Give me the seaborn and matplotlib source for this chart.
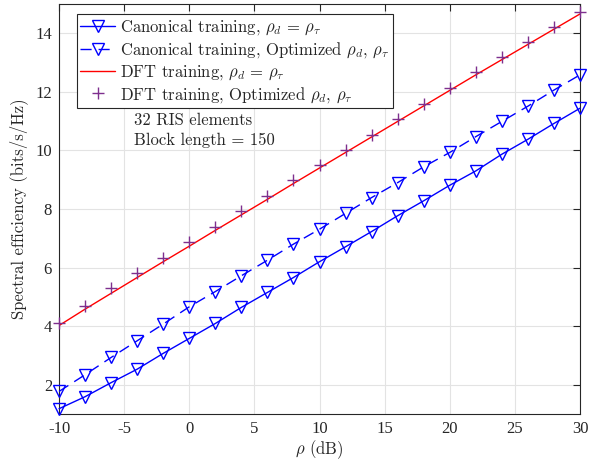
import numpy as np
import pandas as pd
import matplotlib
matplotlib.use('Agg')
import matplotlib.pyplot as plt
import seaborn as sns

# SNR points (dB)
rho_db = list(range(-10, 31, 2))

# spectral efficiency (bits/s/Hz)
canonical_equal = [1.18, 1.59, 2.07, 2.53, 3.07, 3.58, 4.09, 4.64, 5.15, 5.66, 6.20,
                   6.71, 7.23, 7.77, 8.28, 8.81, 9.30, 9.87, 10.38, 10.92, 11.44]
canonical_opt = [1.77, 2.34, 2.93, 3.50, 4.07, 4.66, 5.18, 5.72, 6.25, 6.80, 7.31,
                 7.85, 8.39, 8.90, 9.44, 9.93, 10.47, 10.99, 11.51, 12.06, 12.58]
dft_equal = [4.02, 4.58, 5.12, 5.66, 6.20, 6.73, 7.27, 7.80, 8.33, 8.87, 9.40,
             9.93, 10.46, 10.99, 11.52, 12.05, 12.58, 13.10, 13.62, 14.14, 14.66]
dft_opt = [4.10, 4.70, 5.29, 5.80, 6.33, 6.89, 7.39, 7.94, 8.45, 9.00, 9.50,
           10.01, 10.53, 11.06, 11.60, 12.13, 12.67, 13.18, 13.70, 14.23, 14.73]

labels = [r'Canonical training, $\rho_d \,=\, \rho_\tau$',
          r'Canonical training, Optimized $\rho_d$, $\rho_\tau$',
          r'DFT training, $\rho_d \,=\, \rho_\tau$',
          r'DFT training, Optimized $\rho_d$, $\rho_\tau$']
x_ticks = [-10, -5, 0, 5, 10, 15, 20, 25, 30]
y_ticks = [2, 4, 6, 8, 10, 12, 14]

sns.set_style('white')
plt.rcParams['font.family'] = 'serif'
plt.rcParams['font.serif'] = ['cmr10', 'DejaVu Serif']
plt.rcParams['mathtext.fontset'] = 'cm'
plt.rcParams['axes.unicode_minus'] = False
plt.rcParams['axes.formatter.use_mathtext'] = True

df = pd.DataFrame({'rho': rho_db, 'ce': canonical_equal, 'co': canonical_opt,
                   'de': dft_equal, 'do': dft_opt})

fig = plt.figure(figsize=(5.89, 4.65), dpi=100)
ax = fig.add_axes([0.1002, 0.1097, 0.8845, 0.8817])

blue = '#0000FF'
purple = '#7E2F8E'
sns.lineplot(data=df, x='rho', y='ce', ax=ax, color=blue, lw=1.0, marker='v',
             markersize=8.5, markerfacecolor='none', markeredgecolor=blue,
             markeredgewidth=1.0, label=labels[0], clip_on=False, zorder=3)
sns.lineplot(data=df, x='rho', y='co', ax=ax, color=blue, lw=1.0, marker='v',
             markersize=8.5, markerfacecolor='none', markeredgecolor=blue,
             markeredgewidth=1.0, label=labels[1], clip_on=False, zorder=3)
ax.lines[-1].set_dashes((8, 5))
sns.lineplot(data=df, x='rho', y='de', ax=ax, color='#FF0000', lw=1.0,
             label=labels[2], zorder=3)
sns.lineplot(data=df, x='rho', y='do', ax=ax, color=purple, linestyle='none',
             marker='+', markersize=9, markeredgewidth=1.0,
             markeredgecolor=purple, label=labels[3], clip_on=False, zorder=3)

ax.set_xlim(-10, 30)
ax.set_ylim(1, 15)
ax.set_xticks(x_ticks)
ax.set_yticks(y_ticks)
ax.set_xticklabels([str(t) for t in x_ticks])
ax.set_yticklabels([str(t) for t in y_ticks])
ax.tick_params(direction='in', length=5, width=0.8, top=True, right=True,
               labelsize=12, colors='#262626', labelcolor='#262626', pad=5)
for lab in ax.get_xticklabels() + ax.get_yticklabels():
    lab.set_family('Liberation Serif')
ax.grid(True, color='#e3e3e3', lw=0.8)
ax.set_axisbelow(True)
for s in ax.spines.values():
    s.set_color('#262626')
    s.set_linewidth(0.8)

ax.set_xlabel(r'$\rho$ (dB)', fontsize=12, color='#262626', labelpad=1)
ax.set_ylabel('Spectral efficiency (bits/s/Hz)', fontsize=12, color='#262626',
              labelpad=5)

ax.text(-4.25, 11.3, '32 RIS elements\nBlock length = 150', fontsize=12,
        va='top', ha='left', linespacing=1.4)

leg = ax.legend(loc='upper left', bbox_to_anchor=(18 / 521, 1 - 10 / 410),
                borderaxespad=0, fontsize=12, fancybox=False, framealpha=1,
                edgecolor='#262626', handlelength=2.1, handletextpad=0.3,
                labelspacing=0.17, borderpad=0.2)
leg.get_frame().set_linewidth(0.8)
leg.set_zorder(5)

fig.savefig('out.png', dpi=100)
